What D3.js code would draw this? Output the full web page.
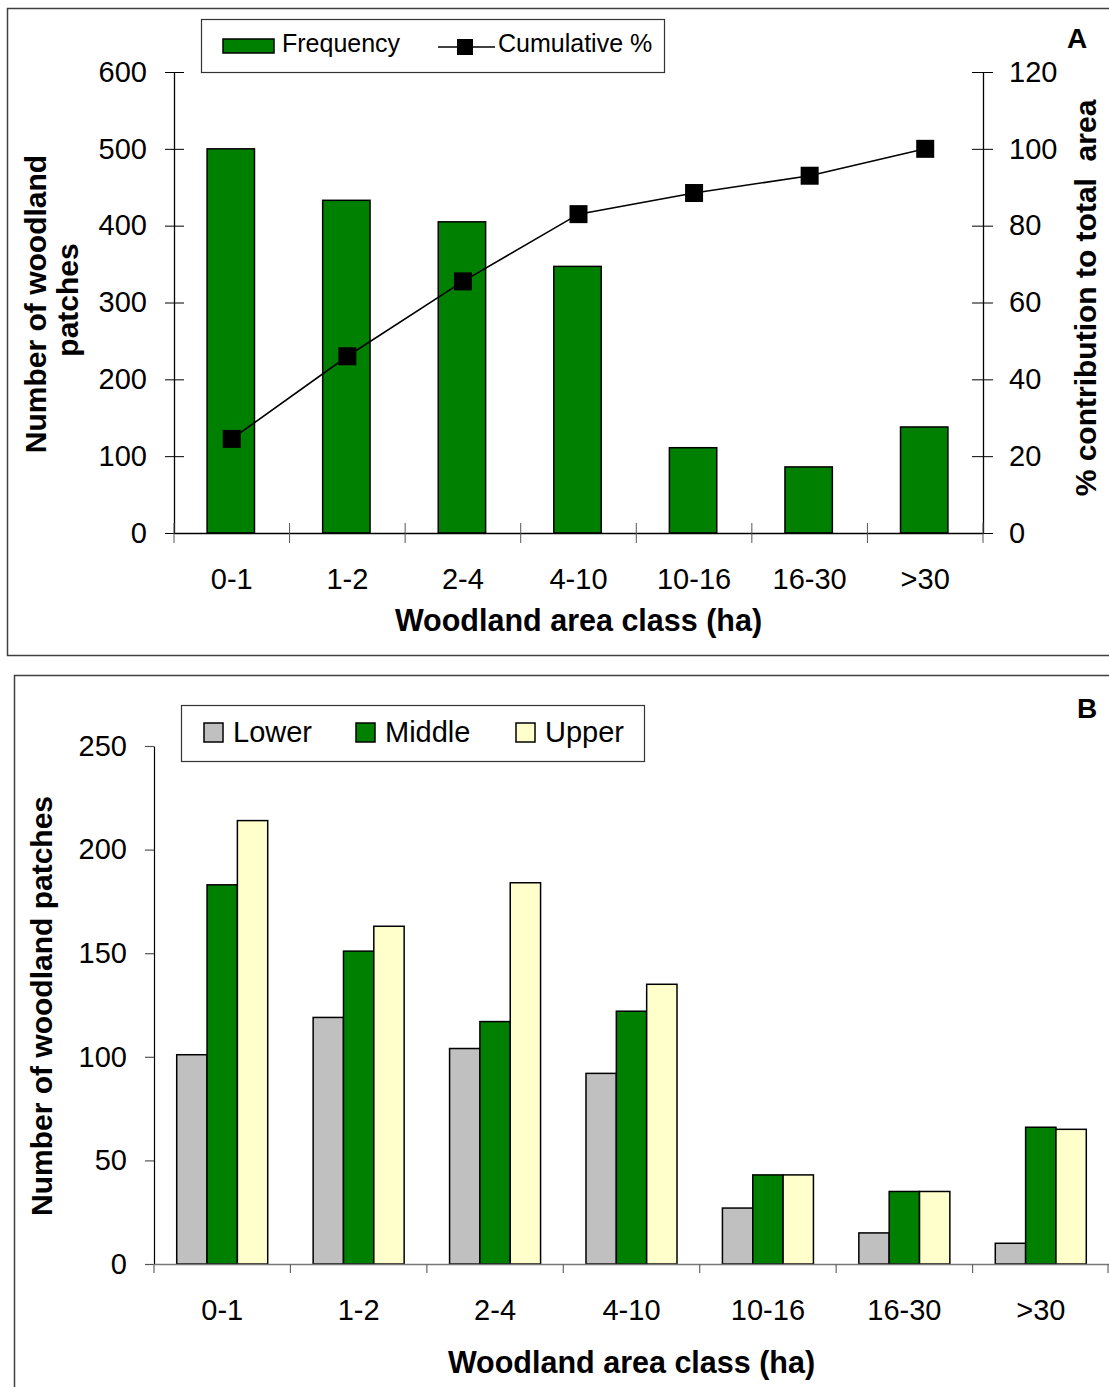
<!DOCTYPE html>
<html>
<head>
<meta charset="utf-8">
<script src="https://cdn.jsdelivr.net/npm/d3@7"></script>
<style>
  html, body { margin: 0; padding: 0; background: #fff; }
  svg { display: block; font-family: "Liberation Sans", Arial, sans-serif; }
  .pre { white-space: pre; }
</style>
</head>
<body>
<svg id="chart" width="1109" height="1387"></svg>
<script>
// Woodland area classes (ha)
const categories = ["0-1", "1-2", "2-4", "4-10", "10-16", "16-30", ">30"];

// Panel A: number of patches per class and cumulative % of total area
const frequency = [500, 433, 405, 347, 111, 86, 138];
const cumulative = [24.5, 46, 65.5, 83, 88.5, 93, 100];
const freqTicks = [0, 100, 200, 300, 400, 500, 600];
const cumTicks = [0, 20, 40, 60, 80, 100, 120];

// Panel B: number of patches per class by catchment position
const seriesNames = ["Lower", "Middle", "Upper"];
const lower = [101, 119, 104, 92, 27, 15, 10];
const middle = [183, 151, 117, 122, 43, 35, 66];
const upper = [214, 163, 184, 135, 43, 35, 65];
const countTicksB = [0, 50, 100, 150, 200, 250];

const GREEN = "#008000";
const seriesColors = { Lower: "#c0c0c0", Middle: GREEN, Upper: "#ffffcc" };
const TICK_FONT = 29;
const LABEL_FONT = 30;

const svg = d3.select("#chart");

/* ---------------- Panel A ---------------- */
const gA = svg.append("g");
gA.append("rect").attr("x", 7.5).attr("y", 8.5).attr("width", 1120).attr("height", 647)
  .attr("fill", "none").attr("stroke", "#404040").attr("stroke-width", 1.5);

const xA = d3.scaleBand().domain(categories).range([174, 983]);
const yA = d3.scaleLinear().domain([0, 600]).range([533, 72]);
const yA2 = d3.scaleLinear().domain([0, 120]).range([533, 72]);

// bars
const barW = xA.bandwidth() * 0.41;
gA.selectAll("rect.freq").data(categories).join("rect").attr("class", "freq")
  .attr("x", d => xA(d) + xA.bandwidth() / 2 - barW / 2 - 1)
  .attr("width", barW)
  .attr("y", (d, i) => yA(frequency[i]))
  .attr("height", (d, i) => yA(0) - yA(frequency[i]))
  .attr("fill", GREEN).attr("stroke", "#000").attr("stroke-width", 1.5);

// left axis, ticks crossing the line
const axL = gA.append("g").attr("transform", "translate(174,0)")
  .call(d3.axisLeft(yA).tickValues(freqTicks).tickSize(9).tickPadding(18).tickSizeOuter(0));
axL.selectAll(".tick line").attr("x1", 10);
// right axis
const axR = gA.append("g").attr("transform", "translate(983,0)")
  .call(d3.axisRight(yA2).tickValues(cumTicks).tickSize(10).tickPadding(16).tickSizeOuter(0));
axR.selectAll(".tick line").attr("x1", -11);
// bottom axis: labels at band centres, ticks at class boundaries
const axB = gA.append("g").attr("transform", "translate(0,533)")
  .call(d3.axisBottom(xA).tickSize(0).tickPadding(35).tickSizeOuter(0));
const boundsA = categories.map(c => xA(c)).concat([xA.range()[1]]);
axB.selectAll("line.bound").data(boundsA).join("line").attr("class", "bound")
  .attr("x1", d => d).attr("x2", d => d).attr("y1", -10).attr("y2", 10)
  .attr("stroke", "#555").attr("stroke-width", 1);
[axL, axR, axB].forEach(a => {
  a.selectAll("path.domain").attr("stroke", "#000").attr("stroke-width", 1.3);
  a.selectAll(".tick line").attr("stroke", "#000").attr("stroke-width", 1);
  a.selectAll("text").attr("font-size", TICK_FONT).attr("fill", "#000")
    .attr("font-family", "Liberation Sans, Arial, sans-serif");
});

// cumulative line and markers
const cx = d => xA(d) + xA.bandwidth() / 2;
gA.append("path")
  .attr("d", d3.line().x(d => cx(d)).y((d, i) => yA2(cumulative[i]))(categories))
  .attr("fill", "none").attr("stroke", "#000").attr("stroke-width", 1.6);
gA.selectAll("rect.cum").data(categories).join("rect").attr("class", "cum")
  .attr("x", d => cx(d) - 9).attr("y", (d, i) => yA2(cumulative[i]) - 9)
  .attr("width", 18).attr("height", 18).attr("fill", "#000");

// axis titles
gA.append("text").attr("x", 578.5).attr("y", 631).attr("text-anchor", "middle")
  .attr("font-size", 30.5).attr("font-weight", "bold").text("Woodland area class (ha)");
gA.append("text").attr("transform", "translate(46,304) rotate(-90)").attr("text-anchor", "middle")
  .attr("font-size", LABEL_FONT).attr("font-weight", "bold").text("Number of woodland");
gA.append("text").attr("transform", "translate(78,300) rotate(-90)").attr("text-anchor", "middle")
  .attr("font-size", LABEL_FONT).attr("font-weight", "bold").text("patches");
gA.append("text").attr("class", "pre").attr("transform", "translate(1096,298) rotate(-90)")
  .attr("text-anchor", "middle").attr("font-size", LABEL_FONT).attr("font-weight", "bold")
  .text("% contribution to total  area");
gA.append("text").attr("x", 1077).attr("y", 48).attr("text-anchor", "middle")
  .attr("font-size", 28).attr("font-weight", "bold").text("A");

// legend
const lgA = gA.append("g");
lgA.append("rect").attr("x", 201.5).attr("y", 19.5).attr("width", 463).attr("height", 53)
  .attr("fill", "#fff").attr("stroke", "#333").attr("stroke-width", 1.2);
lgA.append("rect").attr("x", 223).attr("y", 39).attr("width", 51).attr("height", 14)
  .attr("fill", GREEN).attr("stroke", "#000").attr("stroke-width", 1.5);
lgA.append("text").attr("x", 282).attr("y", 52).attr("font-size", 25).text("Frequency");
lgA.append("line").attr("x1", 438).attr("x2", 495).attr("y1", 47).attr("y2", 47)
  .attr("stroke", "#000").attr("stroke-width", 1.6);
lgA.append("rect").attr("x", 457).attr("y", 39).attr("width", 16).attr("height", 16).attr("fill", "#000");
lgA.append("text").attr("x", 498).attr("y", 52).attr("font-size", 25).text("Cumulative %");

/* ---------------- Panel B ---------------- */
const gB = svg.append("g");
gB.append("rect").attr("x", 14.5).attr("y", 675.5).attr("width", 1120).attr("height", 730)
  .attr("fill", "none").attr("stroke", "#404040").attr("stroke-width", 1.5);

const xB = d3.scaleBand().domain(categories).range([154, 1109]);
const groupW = xB.bandwidth() * 0.667;
const xSub = d3.scaleBand().domain(seriesNames).range([0, groupW]);
const yB = d3.scaleLinear().domain([0, 250]).range([1264, 746]);
const seriesValues = { Lower: lower, Middle: middle, Upper: upper };

const groups = gB.selectAll("g.grp").data(categories).join("g").attr("class", "grp")
  .attr("transform", d => `translate(${xB(d) + (xB.bandwidth() - groupW) / 2},0)`);
groups.selectAll("rect").data((d, i) => seriesNames.map(s => ({ s, v: seriesValues[s][i] })))
  .join("rect")
  .attr("x", d => xSub(d.s)).attr("width", xSub.bandwidth())
  .attr("y", d => yB(d.v)).attr("height", d => yB(0) - yB(d.v))
  .attr("fill", d => seriesColors[d.s]).attr("stroke", "#000").attr("stroke-width", 1.5);

const bxL = gB.append("g").attr("transform", "translate(154,0)")
  .call(d3.axisLeft(yB).tickValues(countTicksB).tickSize(9).tickPadding(18).tickSizeOuter(0));
const bxB = gB.append("g").attr("transform", "translate(0,1264)")
  .call(d3.axisBottom(xB).tickSize(0).tickPadding(35).tickSizeOuter(0));
const boundsB = categories.map(c => xB(c)).concat([xB.range()[1] - 1]);
bxB.selectAll("line.bound").data(boundsB).join("line").attr("class", "bound")
  .attr("x1", d => d).attr("x2", d => d).attr("y1", 0).attr("y2", 9)
  .attr("stroke", "#666").attr("stroke-width", 1.2);
bxL.selectAll("path.domain").attr("stroke", "#000").attr("stroke-width", 1.2);
bxL.selectAll(".tick line").attr("stroke", "#555").attr("stroke-width", 1.2);
bxB.selectAll("path.domain").attr("stroke", "#777").attr("stroke-width", 1.6);
[bxL, bxB].forEach(a => a.selectAll("text").attr("font-size", TICK_FONT).attr("fill", "#000")
  .attr("font-family", "Liberation Sans, Arial, sans-serif"));

gB.append("text").attr("x", 631.5).attr("y", 1373).attr("text-anchor", "middle")
  .attr("font-size", 30.5).attr("font-weight", "bold").text("Woodland area class (ha)");
gB.append("text").attr("transform", "translate(52,1006) rotate(-90)").attr("text-anchor", "middle")
  .attr("font-size", LABEL_FONT).attr("font-weight", "bold").text("Number of woodland patches");
gB.append("text").attr("x", 1087).attr("y", 718).attr("text-anchor", "middle")
  .attr("font-size", 28).attr("font-weight", "bold").text("B");

const lgB = gB.append("g");
lgB.append("rect").attr("x", 181.5).attr("y", 705.5).attr("width", 463).attr("height", 56)
  .attr("fill", "#fff").attr("stroke", "#333").attr("stroke-width", 1.2);
const legendX = { Lower: 204, Middle: 356, Upper: 516 };
seriesNames.forEach(s => {
  lgB.append("rect").attr("x", legendX[s]).attr("y", 723).attr("width", 19).attr("height", 19)
    .attr("fill", seriesColors[s]).attr("stroke", "#000").attr("stroke-width", 1.5);
  lgB.append("text").attr("x", legendX[s] + 29).attr("y", 742).attr("font-size", 29).text(s);
});
</script>
</body>
</html>
